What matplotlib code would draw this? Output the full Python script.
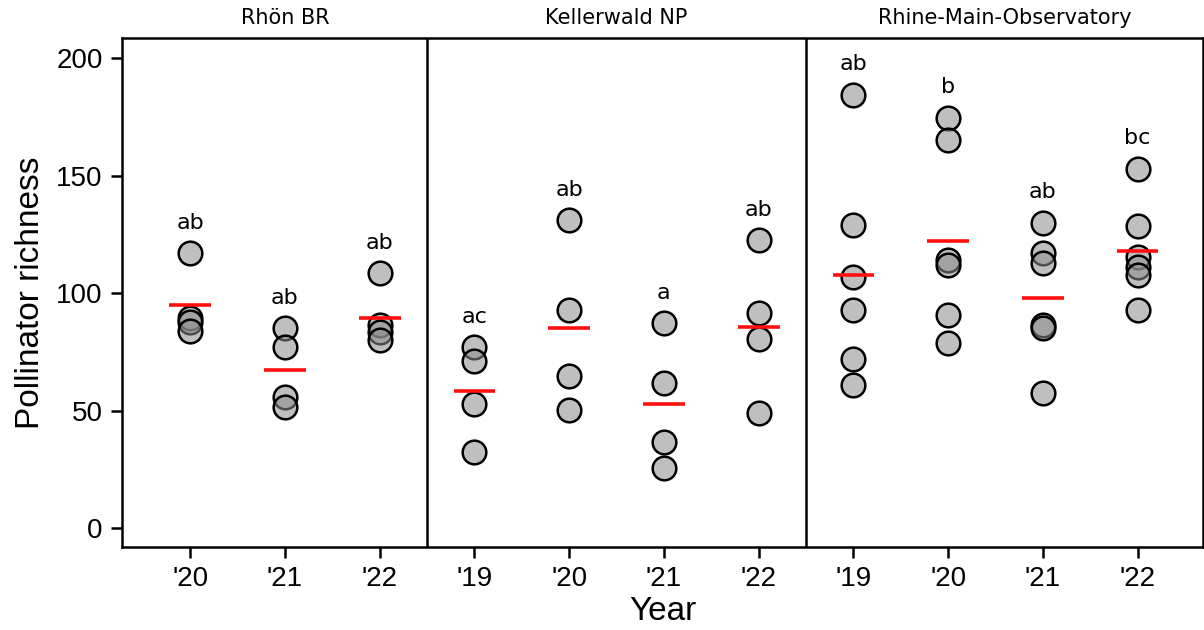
import matplotlib.pyplot as plt
import matplotlib.transforms as mtransforms

sites = ['Rhön BR', 'Kellerwald NP', 'Rhine-Main-Observatory']
years = [["'20", "'21", "'22"],
         ["'19", "'20", "'21", "'22"],
         ["'19", "'20", "'21", "'22"]]

# pollinator richness per plot, grouped by site and year
rhon = [[117, 89.5, 87.5, 84],
        [85, 77, 55.7, 51.5],
        [108.5, 86.5, 83.5, 80]]
keller = [[77, 71, 53, 32.3],
          [131, 92.8, 64.7, 50.2],
          [87.2, 61.7, 36.6, 25.5],
          [122.5, 91.5, 80.4, 48.9]]
rmo = [[184.3, 128.9, 106.8, 92.8, 71.9, 60.9],
       [174.5, 165.1, 114, 112, 90.6, 78.7],
       [129.8, 117, 113, 86.5, 85, 57.4],
       [152.8, 128.5, 115.3, 111.1, 107.7, 92.8]]
richness = [rhon, keller, rmo]

means = [[94.9, 67.2, 89.4],
         [58.3, 85.1, 52.8, 85.5],
         [107.7, 122.1, 97.9, 117.9]]
letters = [['ab', 'ab', 'ab'],
           ['ac', 'ab', 'a', 'ab'],
           ['ab', 'b', 'ab', 'bc']]

fig = plt.figure(figsize=(12.04, 6.3), dpi=100)
ax = fig.add_axes([122 / 1204, 1 - 547 / 630, 1081 / 1204, 509 / 630])

tick_pos, tick_lab = [], []
bounds = [-0.72]
pos = 0
for g, site in enumerate(sites):
    for j, yr in enumerate(years[g]):
        vals = richness[g][j]
        ax.scatter([pos] * len(vals), vals, s=290, facecolor=(0.55, 0.55, 0.55, 0.55),
                   edgecolor='black', linewidth=1.8, zorder=3)
        ax.plot([pos - 0.22, pos + 0.22], [means[g][j]] * 2, color='#ff1010', lw=2.6, zorder=4,
                solid_capstyle='butt')
        ax.text(pos, max(vals) + 13, letters[g][j], ha='center', va='center',
                fontsize=16, family='DejaVu Sans', zorder=5)
        tick_pos.append(pos)
        tick_lab.append(yr)
        pos += 1
    bounds.append(pos - 0.5 if g < 2 else pos - 0.31)
    if g < 2:
        ax.axvline(pos - 0.5, color='black', lw=1.8)

trans = mtransforms.blended_transform_factory(ax.transData, fig.transFigure)
for g, site in enumerate(sites):
    cx = (bounds[g] + bounds[g + 1]) / 2
    if g == 0:
        cx = 1
    ax.text(cx, 1 - 18 / 630, site, ha='center', va='center', fontsize=15,
            family='DejaVu Sans', transform=trans)

ax.set_xlim(-0.72, 10.69)
ax.set_ylim(-8, 208.5)
ax.set_xticks(tick_pos)
ax.set_xticklabels(tick_lab, fontsize=20, family='Liberation Sans')
ax.set_yticks([0, 50, 100, 150, 200])
ax.set_yticklabels(['0', '50', '100', '150', '200'], fontsize=20, family='Liberation Sans')
ax.tick_params(length=8, width=1.8, pad=6)
for sp in ax.spines.values():
    sp.set_linewidth(1.8)

ax.set_ylabel('Pollinator richness', fontsize=24, family='Liberation Sans', va='center')
ax.yaxis.set_label_coords(-0.085, 0.5)
ax.set_xlabel('Year', fontsize=24, family='Liberation Sans', va='center')
ax.xaxis.set_label_coords(0.5, -0.127)

fig.savefig('out.png', dpi=100)
